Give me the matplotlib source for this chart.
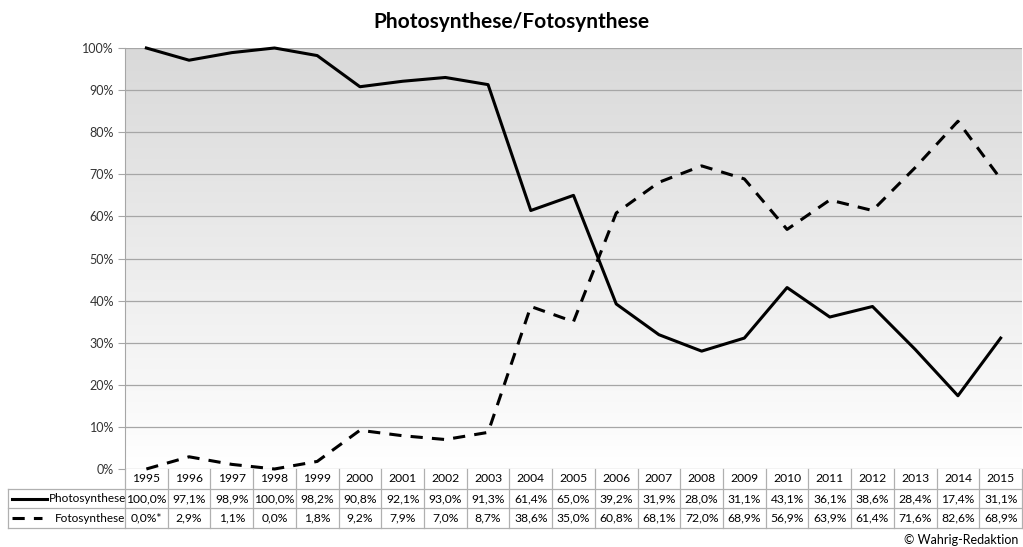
import numpy as np
import matplotlib.pyplot as plt
from matplotlib.lines import Line2D
from matplotlib.colors import LinearSegmentedColormap

plt.rcParams['font.family'] = ['Lato', 'DejaVu Sans']

years = ['1995', '1996', '1997', '1998', '1999', '2000', '2001', '2002', '2003', '2004', '2005',
         '2006', '2007', '2008', '2009', '2010', '2011', '2012', '2013', '2014', '2015']
photo = [100.0, 97.1, 98.9, 100.0, 98.2, 90.8, 92.1, 93.0, 91.3, 61.4, 65.0,
         39.2, 31.9, 28.0, 31.1, 43.1, 36.1, 38.6, 28.4, 17.4, 31.1]
foto = [0.0, 2.9, 1.1, 0.0, 1.8, 9.2, 7.9, 7.0, 8.7, 38.6, 35.0,
        60.8, 68.1, 72.0, 68.9, 56.9, 63.9, 61.4, 71.6, 82.6, 68.9]
foto_labels = ['0,0%*'] + [f'{v:.1f}%'.replace('.', ',') for v in foto[1:]]
photo_labels = [f'{v:.1f}%'.replace('.', ',') for v in photo]

W, H = 1023, 547
fig = plt.figure(figsize=(W / 100, H / 100), dpi=100)

L, R, T, B = 125, 1022, 48, 469
ax = fig.add_axes([L / W, 1 - B / H, (R - L) / W, (B - T) / H])

# grey-to-white gradient background
cmap = LinearSegmentedColormap.from_list('bg', ['#ffffff', '#d9d9d9'])
grad = np.linspace(0, 1, 256).reshape(-1, 1)
ax.imshow(grad, extent=[-0.5, 20.5, 0, 100], aspect='auto', cmap=cmap,
          vmin=0, vmax=1, zorder=0, origin='lower')

x = np.arange(len(years))
ax.plot(x, photo, color='black', lw=2.2, zorder=3, clip_on=False)
ax.plot(x, foto, color='black', lw=2.2, dashes=(4, 3), zorder=3, clip_on=False)

ax.set_xlim(-0.5, 20.5)
ax.set_ylim(0, 100)
ax.set_yticks(range(0, 101, 10))
ax.set_yticklabels([f'{v}%' for v in range(0, 101, 10)], fontsize=9, color='#333333')
ax.tick_params(axis='y', length=5, color='#a6a6a6', pad=3)
ax.set_xticks([])
ax.grid(axis='y', color='#a6a6a6', lw=0.9)
ax.set_axisbelow(False)
for s in ['top', 'right', 'bottom']:
    ax.spines[s].set_visible(False)
ax.spines['left'].set_color('#a6a6a6')

fig.text(0.5, 1 - 22 / H, 'Photosynthese/Fotosynthese', ha='center', va='center',
         fontsize=15, fontweight='bold')

# data table below the plot
def fx(px):
    return px / W

def fy(py):
    return 1 - py / H

gc = '#b0b0b0'
cw = (R - L) / len(years)
rows = [469, 489, 508, 528]
for k in range(len(years) + 1):
    xx = L + k * cw
    fig.add_artist(Line2D([fx(xx), fx(xx)], [fy(469), fy(528)], color=gc, lw=0.9))
fig.add_artist(Line2D([fx(8), fx(8)], [fy(489), fy(528)], color=gc, lw=0.9))
for yy in rows[1:]:
    fig.add_artist(Line2D([fx(8), fx(R)], [fy(yy), fy(yy)], color=gc, lw=0.9))

for i, yr in enumerate(years):
    cx = L + (i + 0.5) * cw
    fig.text(fx(cx), fy(479), yr, ha='center', va='center', fontsize=8.7)
    fig.text(fx(cx), fy(498.5), photo_labels[i], ha='center', va='center', fontsize=8.7)
    fig.text(fx(cx), fy(518), foto_labels[i], ha='center', va='center', fontsize=8.7)

fig.add_artist(Line2D([fx(12), fx(47)], [fy(498.5), fy(498.5)], color='black', lw=2.2))
fig.add_artist(Line2D([fx(12), fx(42)], [fy(518), fy(518)], color='black', lw=2.2, dashes=(4, 3)))
fig.text(fx(49), fy(498.5), 'Photosynthese', ha='left', va='center', fontsize=8.5)
fig.text(fx(55), fy(518), 'Fotosynthese', ha='left', va='center', fontsize=8.5)

fig.text(fx(1018), fy(540), '© Wahrig-Redaktion', ha='right', va='center', fontsize=9)

fig.savefig('out.png', dpi=100)
